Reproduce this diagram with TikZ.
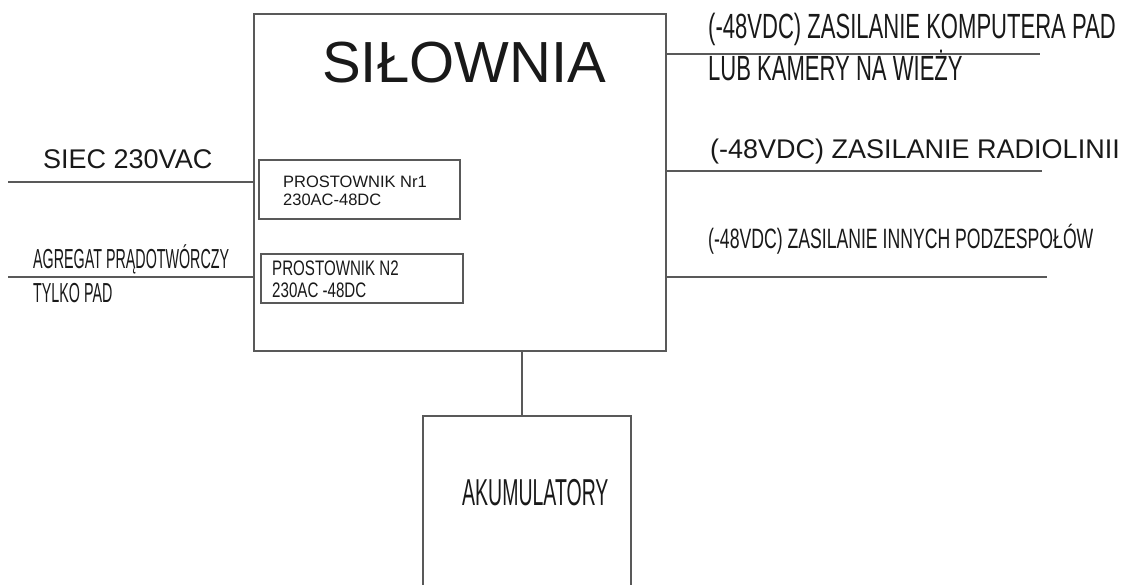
\documentclass[tikz,border=0pt]{standalone}
\usepackage{fontspec}
\setmainfont{Liberation Sans}
\newfontfamily\narrowfont[FakeStretch=0.63]{Liberation Sans}
\newfontfamily\tallfont[FakeStretch=0.52]{Liberation Sans}
\newfontfamily\semifont[FakeStretch=0.72]{Liberation Sans}
\usetikzlibrary{
    positioning,
    calc
}
\definecolor{linegray}{gray}{0.35}
\tikzset{
    % --- Frame of a unit (power room, rectifier, batteries) ---
    unit/.style = {
        rectangle, draw=linegray, line width=1.2pt,
        inner sep=0pt, outer sep=0pt
    },
    % --- Supply line ---
    feed/.style = {
        draw=linegray, line width=1.2pt
    },
    % --- Plain text, placed by its baseline ---
    tag/.style = {
        anchor=base west, inner sep=0pt, text=black!90
    },
    % --- Regular width text of given size ---
    wide tag/.style = {
        tag, font=\fontsize{#1}{#1}\selectfont
    },
    % --- Condensed text of given size ---
    narrow tag/.style = {
        tag, font=\narrowfont\fontsize{#1}{#1}\selectfont
    },
    % --- Strongly condensed text of given size ---
    tall tag/.style = {
        tag, font=\tallfont\fontsize{#1}{#1}\selectfont
    },
    % --- Slightly condensed text of given size ---
    semi tag/.style = {
        tag, font=\semifont\fontsize{#1}{#1}\selectfont
    }
}

\begin{document}
\begin{tikzpicture}[x=1pt, y=-1pt]
\useasboundingbox (0,0) rectangle (1127,584);
\clip (0,0) rectangle (1127,584);

% ---------------------------------------------------------
% Power room
% ---------------------------------------------------------
\node[unit, minimum width=412pt, minimum height=337pt] (Silownia) at (460,182.5) {};
\node[wide tag=58] (SilowniaName) at (322,82) {SIŁOWNIA};

% ---------------------------------------------------------
% Rectifiers
% ---------------------------------------------------------
\node[unit, minimum width=201pt, minimum height=59pt] (Prost1) at (359.5,189.5) {};
\node[wide tag=16.5] (Prost1Name) at (283,187) {PROSTOWNIK Nr1};
\node[wide tag=16.5] (Prost1Type) at (283,205) {230AC-48DC};

\node[unit, minimum width=202pt, minimum height=49pt] (Prost2) at (362,278.5) {};
\node[semi tag=21] (Prost2Name) at (272,275) {PROSTOWNIK N2};
\node[semi tag=21] (Prost2Type) at (272,297) {230AC -48DC};

% ---------------------------------------------------------
% Inputs (left)
% ---------------------------------------------------------
\node[wide tag=27] (SiecName) at (43,168) {SIEC 230VAC};
\coordinate (SiecEnd) at (8,182);
\draw[feed] (SiecEnd) -- (SiecEnd -| Silownia.west);

\node[tall tag=27.5] (AgregatName) at (33,268) {AGREGAT PRĄDOTWÓRCZY};
\node[tall tag=27.5] (AgregatNote) at (33,302) {TYLKO PAD};
\coordinate (AgregatEnd) at (8,277);
\draw[feed] (AgregatEnd) -- (AgregatEnd -| Silownia.west);

% ---------------------------------------------------------
% Outputs (right)
% ---------------------------------------------------------
\node[narrow tag=35] (KompName) at (708,38) {(-48VDC) ZASILANIE KOMPUTERA PAD};
\node[narrow tag=35] (KompNote) at (708,80) {LUB KAMERY NA WIEŻY};
\coordinate (KompEnd) at (1040,54);
\draw[feed] (KompEnd -| Silownia.east) -- (KompEnd);

\node[wide tag=27] (RadioName) at (710,158) {(-48VDC) ZASILANIE RADIOLINII};
\coordinate (RadioEnd) at (1042,171);
\draw[feed] (RadioEnd -| Silownia.east) -- (RadioEnd);

\node[narrow tag=28] (InneName) at (708,248) {(-48VDC) ZASILANIE INNYCH PODZESPOŁÓW};
\coordinate (InneEnd) at (1047,277);
\draw[feed] (InneEnd -| Silownia.east) -- (InneEnd);

% ---------------------------------------------------------
% Batteries
% ---------------------------------------------------------
\node[unit, minimum width=208pt, minimum height=200pt, anchor=north] (Aku) at (527,416) {};
\node[tall tag=37.5] (AkuName) at (462,505) {AKUMULATORY};
\coordinate (AkuTap) at (522,0);
\draw[feed] (Silownia.south -| AkuTap) -- (Aku.north -| AkuTap);

\end{tikzpicture}
\end{document}
